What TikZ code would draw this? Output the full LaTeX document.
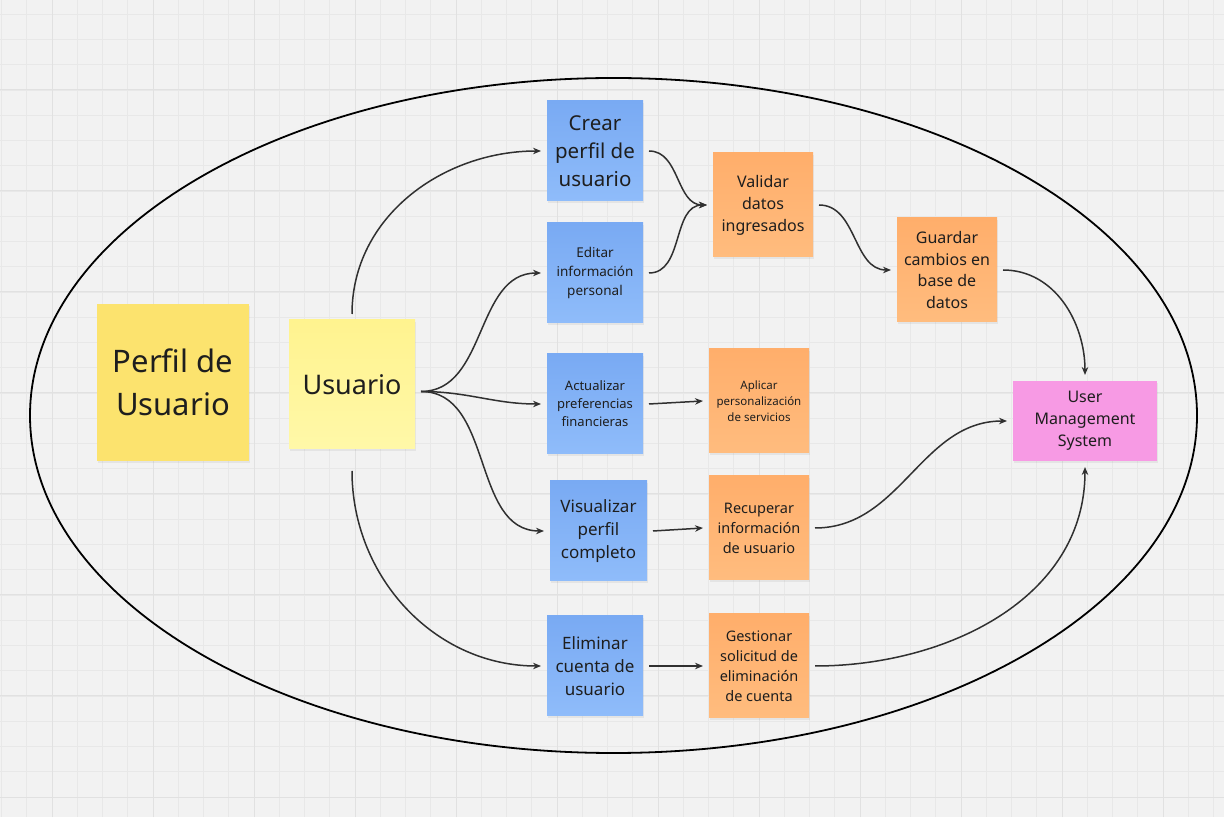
\documentclass[tikz,border=0pt]{standalone}
\usepackage{fontspec}
\setmainfont{Noto Sans}
\usetikzlibrary{arrows.meta,shadows,positioning}

\definecolor{bgcol}{HTML}{F2F2F2}
\definecolor{gridminor}{HTML}{E8E8E8}
\definecolor{gridmajor}{HTML}{E1E1E1}
\definecolor{bluetop}{HTML}{79AAF3}
\definecolor{bluebot}{HTML}{8FBCFA}
\definecolor{orangetop}{HTML}{FFAE6B}
\definecolor{orangebot}{HTML}{FFBC7E}
\definecolor{pinknote}{HTML}{F79AE4}
\definecolor{yellownote}{HTML}{FCE36E}
\definecolor{lighttop}{HTML}{FFF38F}
\definecolor{lightbot}{HTML}{FFF8A8}
\definecolor{wire}{HTML}{303030}
\definecolor{ink}{HTML}{1E1E1E}

\newcommand{\fs}[2]{\fontsize{#1pt}{#2pt}\selectfont}

\tikzset{
  gridline/.style={gridminor, line width=0.8pt},
  gridbold/.style={gridmajor, line width=1pt},
  note/.style={inner sep=0pt, outer sep=6pt, align=center, text=ink,
    drop shadow={shadow xshift=1pt, shadow yshift=-2pt, opacity=0.12}},
  blue note/.style={note, top color=bluetop, bottom color=bluebot,
    minimum width=96pt, minimum height=100pt},
  orange note/.style={note, top color=orangetop, bottom color=orangebot,
    minimum width=100pt, minimum height=104pt},
  link/.style={wire, line width=1.5pt, -{Stealth[length=8pt,width=6.5pt]}},
}

\begin{document}
\begin{tikzpicture}[x=1pt, y=1pt]
    \useasboundingbox (0,0) rectangle (1224,817);
    \fill[bgcol] (0,0) rectangle (1224,817);

    % grid
    \foreach \k in {0,...,48}
        \draw[gridline] ({1.5+25.25*\k},0) -- ({1.5+25.25*\k},817);
    \foreach \k in {0,...,32}
        \draw[gridline] (0,{802.75-25.25*\k}) -- (1224,{802.75-25.25*\k});
    \foreach \k in {0,...,11}
        \draw[gridbold] ({52+101*\k},0) -- ({52+101*\k},817);
    \foreach \k in {0,...,7}
        \draw[gridbold] (0,{727-101*\k}) -- (1224,{727-101*\k});

    % outer ellipse
    \draw[black, line width=1.8pt] (613.5,401.5) ellipse [x radius=583.5pt, y radius=337.5pt];

    % sticky notes
    \node[note, fill=yellownote, minimum width=152pt, minimum height=157pt, font=\fs{31}{43}]
        (perfil) at (173,434.5) {Perfil de\\Usuario};
    \node[note, top color=lighttop, bottom color=lightbot, minimum width=126pt, minimum height=129pt, font=\fs{27}{37}]
        (usu) at (352,432.5) {Usuario};

    \node[blue note, font=\fs{20.5}{28}] (crear) at (595,666) {Crear\\perfil de\\usuario};
    \node[blue note, font=\fs{13.5}{19}] (edit) at (595,544) {Editar\\información\\personal};
    \node[blue note, font=\fs{13}{18}] (actual) at (595,413) {Actualizar\\preferencias\\financieras};
    \node[blue note, minimum width=97pt, font=\fs{17}{23}] (visual) at (598.5,286) {Visualizar\\perfil\\completo};
    \node[blue note, font=\fs{17}{23}] (elim) at (595,151) {Eliminar\\cuenta de\\usuario};

    \node[orange note, font=\fs{16}{22}] (valid) at (763,612) {Validar\\datos\\ingresados};
    \node[orange note, font=\fs{16}{21.7}] (guard) at (947,547) {Guardar\\cambios en\\base de\\datos};
    \node[orange note, font=\fs{11.5}{16}] (aplic) at (759,416) {Aplicar\\personalización\\de servicios};
    \node[orange note, font=\fs{14.5}{20}] (recup) at (759,289) {Recuperar\\información\\de usuario};
    \node[orange note, font=\fs{14.5}{20}] (gest) at (759,151) {Gestionar\\solicitud de\\eliminación\\de cuenta};

    \node[note, fill=pinknote, minimum width=144pt, minimum height=80pt, font=\fs{16}{22}]
        (ums) at (1085,396) {User\\Management\\System};

    \coordinate (usuout) at ([yshift=-7pt]usu.east);
    \coordinate (usubot) at ([yshift=-16pt]usu.south);

    % connectors
    \draw[link] (usu.north) to[out=90, in=180] (crear.west);
    \draw[link] (usuout) to[out=0, in=180] (edit.west);
    \draw[link] (usuout) to[out=0, in=180] (actual.west);
    \draw[link] (usuout) to[out=0, in=180] (visual.west);
    \draw[link] (usubot) to[out=-90, in=180] (elim.west);

    \draw[link] (crear.east) to[out=0, in=180] (valid.west);
    \draw[link] (edit.east) to[out=0, in=180] (valid.west);
    \draw[link] (valid.east) to[out=0, in=180] (guard.west);
    \draw[link] (guard.east) to[out=0, in=90] (ums.north);

    \draw[link] (actual.east) -- (aplic.west);
    \draw[link] (visual.east) -- (recup.west);
    \draw[link] (elim.east) -- (gest.west);

    \draw[link] (recup.east) to[out=0, in=180] (ums.west);
    \draw[link] (gest.east) to[out=0, in=-90] (ums.south);
\end{tikzpicture}
\end{document}
